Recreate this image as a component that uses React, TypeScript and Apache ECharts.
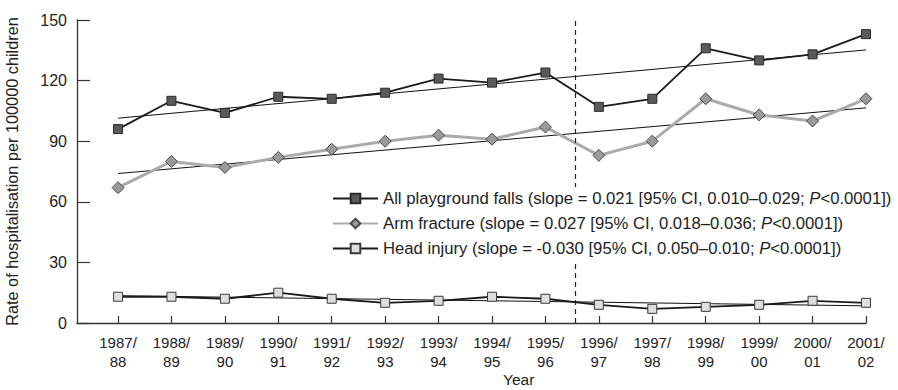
import React, { useEffect, useRef } from "react";
import * as echarts from "echarts";

// Season labels (two-line) along the x axis
const seasons = [
  "1987/\n88", "1988/\n89", "1989/\n90", "1990/\n91", "1991/\n92",
  "1992/\n93", "1993/\n94", "1994/\n95", "1995/\n96", "1996/\n97",
  "1997/\n98", "1998/\n99", "1999/\n00", "2000/\n01", "2001/\n02",
];

// Hospitalisation rates per 100000 children
const allFalls = [96, 110, 104, 112, 111, 114, 121, 119, 124, 107, 111, 136, 130, 133, 143];
const armFracture = [67, 80, 77, 82, 86, 90, 93, 91, 97, 83, 90, 111, 103, 100, 111];
const headInjury = [13, 13, 12, 15, 12, 10, 11, 13, 12, 9, 7, 8, 9, 11, 10];

// Fitted linear trends: [value at first season, value at last season]
const allFallsTrend = [101.4, 135.2];
const armFractureTrend = [74, 106.5];
const headInjuryTrend = [13.5, 8.5];

// Position of the dashed divider (between 1995/96 and 1996/97)
const dividerAt = 8.55;

const yTicks = [0, 30, 60, 90, 120, 150];

const seriesNames = ["All playground falls", "Arm fracture", "Head injury"];
const legendTexts: Record<string, [string, string]> = {
  "All playground falls": ["All playground falls (slope = 0.021 [95% CI, 0.010–0.029; ", "<0.0001])"],
  "Arm fracture": ["Arm fracture (slope = 0.027 [95% CI, 0.018–0.036; ", "<0.0001])"],
  "Head injury": ["Head injury (slope = -0.030 [95% CI, 0.050–0.010; ", "<0.0001])"],
};

const FONT = "'Liberation Sans', Arial, Helvetica, sans-serif";
const TEXT = "#222";
const LEGEND_SIZE = 16.7;

function toPoints(values: number[]) {
  return values.map((v, i) => [i, v]);
}

function trendPoints(t: number[]) {
  return [[0, t[0]], [seasons.length - 1, t[1]]];
}

export default function App() {
  const ref = useRef<HTMLDivElement>(null);

  useEffect(() => {
    if (!ref.current) return;
    const chart = echarts.init(ref.current, undefined, { renderer: "svg" });
    const idx = seasons.map((_, i) => i);

    const trendSeries = (t: number[], id: string) => ({
      type: "line",
      id,
      data: trendPoints(t),
      symbol: "none",
      silent: true,
      lineStyle: { color: "#111", width: 1 },
      z: 1,
    });

    chart.setOption({
      animation: false,
      backgroundColor: "#fff",
      textStyle: { fontFamily: FONT },
      grid: {
        left: 77,
        right: 32,
        top: 20,
        bottom: 67,
        containLabel: false,
        outerBoundsMode: "none",
      },
      // x-axis title, set a little right of the plot centre
      graphic: [
        {
          type: "text",
          left: 503,
          top: 371,
          style: {
            text: "Year",
            font: `15.5px ${FONT}`,
            fill: TEXT,
          },
        },
      ],
      xAxis: {
        type: "value",
        min: -0.768,
        max: seasons.length - 1,
        splitLine: { show: false },
        axisLine: { show: true, onZero: false, lineStyle: { color: "#333", width: 1.3 } },
        axisTick: {
          show: true,
          inside: true,
          length: 7,
          customValues: idx,
          lineStyle: { color: "#333", width: 1.2 },
        },
        axisLabel: {
          customValues: idx,
          fontFamily: FONT,
          fontSize: 15,
          color: TEXT,
          lineHeight: 19,
          margin: 10,
          formatter: (v: number) => seasons[Math.round(v)] ?? "",
        },
      },
      yAxis: {
        type: "value",
        min: yTicks[0],
        max: yTicks[yTicks.length - 1],
        interval: 30,
        name: "Rate of hospitalisation per 100000 children",
        nameLocation: "middle",
        nameGap: 57,
        nameTextStyle: { fontFamily: FONT, fontSize: 16.3, color: TEXT },
        splitLine: { show: false },
        axisLine: { show: true, onZero: false, lineStyle: { color: "#333", width: 1.3 } },
        axisTick: { show: true, inside: true, length: 13, lineStyle: { color: "#333", width: 1.2 } },
        axisLabel: { fontFamily: FONT, fontSize: 16, color: TEXT, margin: 10 },
      },
      legend: {
        data: seriesNames,
        orient: "vertical",
        left: 331,
        top: 187,
        z: 10,
        padding: [3, 4, 3, 1],
        backgroundColor: "#fff",
        itemWidth: 45,
        itemHeight: 12,
        itemGap: 8,
        selectedMode: false,
        formatter: (name: string) => {
          const [a, b] = legendTexts[name];
          return `{t|${a}}{i|P}{t|${b}}`;
        },
        textStyle: {
          fontFamily: FONT,
          fontSize: LEGEND_SIZE,
          color: TEXT,
          rich: {
            t: { fontFamily: FONT, fontSize: LEGEND_SIZE, color: TEXT, lineHeight: 18 },
            i: { fontFamily: FONT, fontSize: LEGEND_SIZE, color: TEXT, fontStyle: "italic", lineHeight: 18 },
          },
        },
      },
      series: [
        trendSeries(allFallsTrend, "trendAll"),
        trendSeries(armFractureTrend, "trendArm"),
        trendSeries(headInjuryTrend, "trendHead"),
        {
          type: "line",
          name: seriesNames[0],
          data: toPoints(allFalls),
          symbol: "rect",
          symbolSize: 9,
          lineStyle: { color: "#1a1a1a", width: 1.8 },
          itemStyle: { color: "#5a5a5a", borderColor: "#2a2a2a", borderWidth: 1 },
          z: 3,
          markLine: {
            silent: true,
            symbol: "none",
            label: { show: false },
            lineStyle: { color: "#222", width: 1.2, type: [5, 4] },
            data: [{ xAxis: dividerAt }],
          },
        },
        {
          type: "line",
          name: seriesNames[1],
          data: toPoints(armFracture),
          symbol: "diamond",
          symbolSize: 12,
          lineStyle: { color: "#ababab", width: 3 },
          itemStyle: { color: "#9a9a9a", borderColor: "#4a4a4a", borderWidth: 1 },
          z: 3,
        },
        {
          type: "line",
          name: seriesNames[2],
          data: toPoints(headInjury),
          symbol: "rect",
          symbolSize: 9,
          lineStyle: { color: "#1a1a1a", width: 1.8 },
          itemStyle: { color: "#dedede", borderColor: "#3a3a3a", borderWidth: 1 },
          z: 3,
        },
      ],
    });

    return () => chart.dispose();
  }, []);

  return (
    <div
      ref={ref}
      style={{ position: "absolute", left: 0, top: 0, width: 898, height: 390 }}
    />
  );
}
